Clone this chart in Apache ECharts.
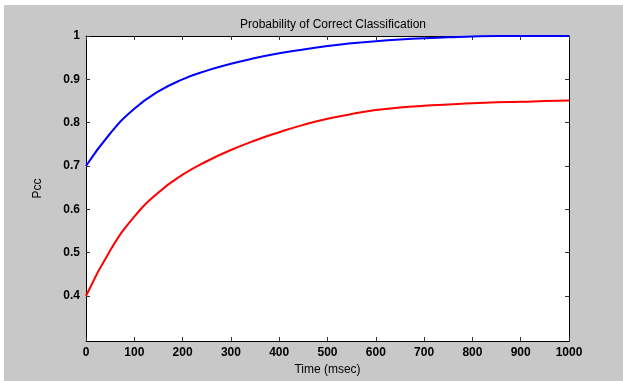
<!DOCTYPE html>
<html>
<head>
<meta charset="utf-8">
<script src="https://cdn.jsdelivr.net/npm/echarts@6/dist/echarts.min.js"></script>
<style>
  html, body { margin: 0; padding: 0; background: #fff; }
  #chart { position: absolute; left: 4px; top: 5px; width: 619px; height: 376px; }
</style>
</head>
<body>
<div id="chart"></div>
<script>
// time in msec, read every 50 ms off the picture
var times = [0, 50, 100, 150, 200, 250, 300, 350, 400, 450, 500, 550, 600, 650, 700, 750, 800, 850, 900, 950, 1000];
var upperPcc = [0.700, 0.775, 0.832, 0.872, 0.900, 0.920, 0.936, 0.949, 0.960, 0.969, 0.977, 0.983, 0.988, 0.992, 0.995, 0.997, 0.999, 1.0, 1.0, 1.0, 1.0];
var lowerPcc = [0.400, 0.505, 0.583, 0.639, 0.680, 0.711, 0.737, 0.759, 0.778, 0.795, 0.809, 0.820, 0.829, 0.835, 0.839, 0.842, 0.845, 0.847, 0.848, 0.850, 0.851];
var yTicks = [0.4, 0.5, 0.6, 0.7, 0.8, 0.9, 1];

function pairs(xs, ys) {
  return xs.map(function (x, i) { return [x, ys[i]]; });
}

var chart = echarts.init(document.getElementById('chart'));
var axisLine = {show: true, onZero: false, lineStyle: {color: '#000', width: 1}};
var tick = {show: true, inside: true, length: 4, lineStyle: {color: '#333'}};
var labelFont = {color: '#000', fontSize: 12, fontWeight: 'bold', fontFamily: 'Liberation Sans, Arial, sans-serif'};

chart.setOption({
  backgroundColor: '#c8c8c8',
  animation: false,
  title: {
    text: 'Probability of Correct Classification',
    left: 324, top: 9, textAlign: 'center',
    textStyle: {color: '#000', fontSize: 12, fontWeight: 'normal', fontFamily: 'Liberation Sans, Arial, sans-serif'}
  },
  grid: {left: 82, top: 31, right: 54, bottom: 38, show: true, backgroundColor: '#fff', borderWidth: 0},
  xAxis: [{
    type: 'value', min: 0, max: 1000, interval: 100,
    name: 'Time (msec)', nameLocation: 'middle', nameGap: 21,
    nameTextStyle: {color: '#000', fontSize: 12, fontFamily: 'Liberation Sans, Arial, sans-serif'},
    axisLine: axisLine, axisTick: tick, splitLine: {show: false},
    axisLabel: Object.assign({margin: 6, formatter: function (v) { return String(v); }}, labelFont)
  }, {
    type: 'value', position: 'top', min: 0, max: 1000, interval: 100,
    axisLine: axisLine, axisTick: tick, splitLine: {show: false}, axisLabel: {show: false}
  }],
  yAxis: [{
    type: 'value', min: 0.296, max: 1,
    name: 'Pcc', nameLocation: 'middle', nameGap: 42,
    nameTextStyle: {color: '#000', fontSize: 12, fontFamily: 'Liberation Sans, Arial, sans-serif'},
    axisLine: axisLine, splitLine: {show: false},
    axisTick: Object.assign({customValues: yTicks}, tick),
    axisLabel: Object.assign({margin: 6, customValues: yTicks, formatter: function (v) { return String(Math.round(v * 10) / 10); }}, labelFont)
  }, {
    type: 'value', position: 'right', min: 0.296, max: 1,
    axisLine: axisLine, splitLine: {show: false},
    axisTick: Object.assign({customValues: yTicks}, tick),
    axisLabel: {show: false}
  }],
  series: [{
    type: 'line', data: pairs(times, upperPcc), smooth: 0.5, showSymbol: false,
    lineStyle: {color: '#0000ff', width: 2}, z: 3
  }, {
    type: 'line', data: pairs(times, lowerPcc), smooth: 0.5, showSymbol: false,
    lineStyle: {color: '#ff0000', width: 2}, z: 3
  }]
});
</script>
</body>
</html>
